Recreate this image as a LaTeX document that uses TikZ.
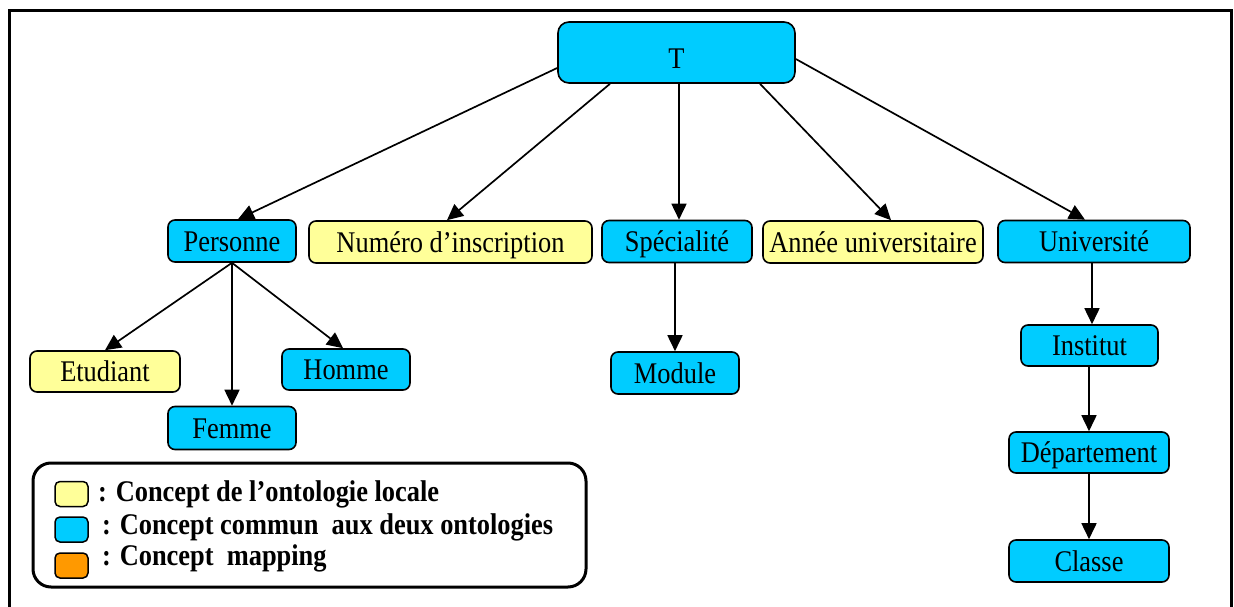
\documentclass[tikz,border=0pt]{standalone}
\usepackage{fontspec}
\setmainfont{Liberation Serif}
\newfontfamily\dfont[FakeStretch=0.88]{Liberation Serif}
\usetikzlibrary{arrows.meta}
\definecolor{cblue}{HTML}{00CCFF}
\definecolor{cyellow}{HTML}{FFFF99}
\definecolor{corange}{HTML}{FF9900}
\begin{document}
\begin{tikzpicture}[x=1pt,y=-1pt,
  box/.style={draw=black, line width=1.6pt, rounded corners=7pt, inner sep=0pt,
    font=\dfont\fontsize{30}{34}\selectfont, minimum height=42pt,
    text height=21pt, text depth=1pt},
  common/.style={box, fill=cblue},
  local/.style={box, fill=cyellow},
  arr/.style={line width=1.7pt, -{Triangle[length=16pt,width=15pt]}},
  swatch/.style={draw=black, line width=1.5pt, rounded corners=5pt, inner sep=0pt,
    minimum width=33pt, minimum height=25pt},
  legtext/.style={anchor=west, inner sep=0pt, font=\dfont\fontsize{30}{34}\selectfont\bfseries}]
\useasboundingbox (0,0) rectangle (1234,607);
\fill[white] (0,0) rectangle (1234,607);
% outer frame
\draw[line width=3pt] (9,610) -- (9,10.5) -- (1231.5,10.5) -- (1231.5,610);

% nodes
\node[common, minimum width=237pt, minimum height=61pt, rounded corners=11pt,
  text height=33pt, text depth=1pt] (T) at (676.5,52.5) {T};
\node[common, minimum width=128pt] (pers) at (232,241) {Personne};
\node[local, minimum width=283pt] (num) at (450.5,242) {Numéro d’inscription};
\node[common, minimum width=150pt] (spec) at (677,241.5) {Spécialité};
\node[local, minimum width=220pt] (annee) at (873,242) {Année universitaire};
\node[common, minimum width=192pt] (univ) at (1094,241.5) {Université};
\node[local, minimum width=150pt, minimum height=41pt] (etu) at (105,371.5) {Etudiant};
\node[common, minimum width=128pt, minimum height=41pt] (homme) at (346,369.5) {Homme};
\node[common, minimum width=128pt, minimum height=43pt] (femme) at (232,428) {Femme};
\node[common, minimum width=128pt] (module) at (675,373) {Module};
\node[common, minimum width=137pt, minimum height=41pt] (inst) at (1089.5,345.5) {Institut};
\node[common, minimum width=160pt, minimum height=41pt] (dep) at (1089,452.5) {Département};
\node[common, minimum width=160pt] (classe) at (1089,561) {Classe};

% connectors
\draw[arr] ([yshift=-15.5pt]T.west) -- ([xshift=6pt]pers.north);
\draw[arr] ([xshift=-66.5pt]T.south) -- ([xshift=-3.5pt]num.north);
\draw[arr] ([xshift=2.5pt]T.south) -- ([xshift=2pt]spec.north);
\draw[arr] ([xshift=83.5pt]T.south) -- ([xshift=18pt]annee.north);
\draw[arr] ([yshift=-6.5pt]T.east) -- ([xshift=-9pt]univ.north);
\draw[arr] (pers.south) -- (etu.north);
\draw[arr] (pers.south) -- (femme.north);
\draw[arr] (pers.south) -- ([xshift=-3pt]homme.north);
\draw[arr] (module.north |- spec.south) -- (module.north);
\draw[arr] ([xshift=2.5pt]inst.north |- univ.south) -- ([xshift=2.5pt]inst.north);
\draw[arr] (dep.north |- inst.south) -- (dep.north);
\draw[arr] (dep.south) -- (classe.north);

% legend
\node[draw=black, line width=3pt, rounded corners=18pt, minimum width=553pt, minimum height=124pt, inner sep=0pt] (legend) at (309.5,525) {};
\node[swatch, fill=cyellow] (sw1) at (71.5,494) {};
\node[swatch, fill=cblue] (sw2) at (71.5,529.5) {};
\node[swatch, fill=corange] (sw3) at (71.5,565.5) {};
\node[legtext] (lt1) at (98,494) {: Concept de l’ontologie locale};
\node[legtext] (lt2) at (102,527) {: Concept commun\ \ aux deux ontologies};
\node[legtext] (lt3) at (102,558) {: Concept\ \ mapping};
\end{tikzpicture}
\end{document}
